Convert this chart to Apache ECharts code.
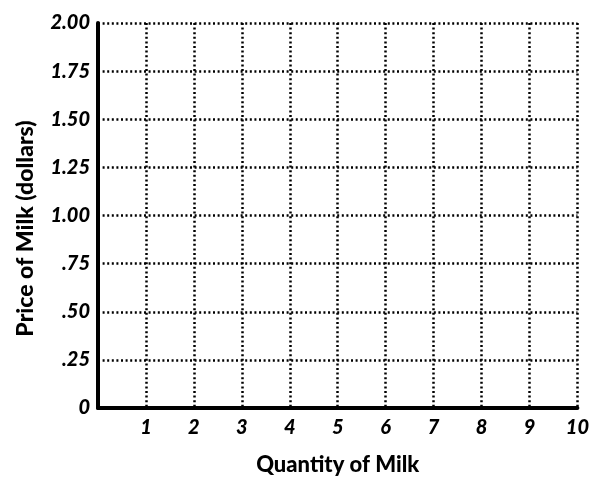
<!DOCTYPE html>
<html>
<head>
<meta charset="utf-8">
<script src="https://cdn.jsdelivr.net/npm/echarts@6/dist/echarts.min.js"></script>
<style>
  html, body { margin: 0; padding: 0; background: #fff; }
  #chart { width: 592px; height: 481px; }
</style>
</head>
<body>
<div id="chart"></div>
<script>
const xTicks = [0, 1, 2, 3, 4, 5, 6, 7, 8, 9, 10];
const xTickLabels = ['', '1', '2', '3', '4', '5', '6', '7', '8', '9', '10'];
const yTicks = [0, 0.25, 0.5, 0.75, 1, 1.25, 1.5, 1.75, 2];
const yTickLabels = ['0', '.25', '.50', '.75', '1.00', '1.25', '1.50', '1.75', '2.00'];
const xName = 'Quantity of Milk';
const yName = 'Price of Milk (dollars)';
// blank worksheet: no plotted points
const milkPoints = [];

const chart = echarts.init(document.getElementById('chart'));

const tickFont = {
  color: '#000',
  fontFamily: 'Lato',
  fontWeight: 900,
  fontStyle: 'italic',
  fontSize: 20
};
const dotted = { color: '#000', width: 2.5, type: [2, 2.6] };

const opt = {
  animation: false,
  grid: { left: 98, right: 14, top: 23, bottom: 72 },
  xAxis: {
    type: 'value',
    min: xTicks[0],
    max: xTicks[xTicks.length - 1],
    interval: 1,
    name: xName,
    nameLocation: 'middle',
    nameGap: 46,
    nameTextStyle: { color: '#000', fontFamily: 'Lato', fontWeight: 900, fontSize: 22 },
    axisLine: { lineStyle: { color: '#000', width: 4 } },
    axisTick: { show: false },
    axisLabel: {
      ...tickFont,
      margin: 10,
      formatter: (v) => xTickLabels[xTicks.indexOf(v)] ?? ''
    },
    splitLine: { show: true, lineStyle: dotted }
  },
  yAxis: {
    type: 'value',
    min: yTicks[0],
    max: yTicks[yTicks.length - 1],
    interval: 0.25,
    name: yName,
    nameLocation: 'middle',
    nameGap: 61,
    nameMoveOverlap: false,
    nameTextStyle: { color: '#000', fontFamily: 'Lato', fontWeight: 900, fontSize: 23, padding: [0, 26, 0, 0] },
    axisLine: { show: true, lineStyle: { color: '#000', width: 4 } },
    axisTick: { show: false },
    axisLabel: {
      ...tickFont,
      margin: 8,
      formatter: (v) => yTickLabels[yTicks.indexOf(v)] ?? ''
    },
    splitLine: { show: true, lineStyle: dotted }
  },
  series: [
    { type: 'scatter', data: milkPoints }
  ]
};

chart.setOption(opt);
</script>
</body>
</html>
